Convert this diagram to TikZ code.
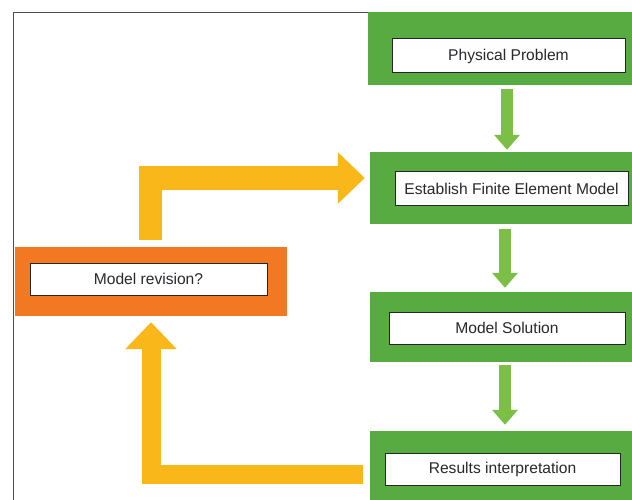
\documentclass[tikz,border=0pt]{standalone}
\usepackage{fontspec}
\setmainfont{Liberation Sans}
\usetikzlibrary{calc,arrows.meta}

\definecolor{boxgreen}{RGB}{88,171,64}
\definecolor{arrgreen}{RGB}{124,191,70}
\definecolor{revorange}{RGB}{242,121,34}
\definecolor{backyellow}{RGB}{250,183,26}
\definecolor{txtgray}{RGB}{40,40,45}

\begin{document}
\begin{tikzpicture}[x=1pt,y=-1pt,font=\fontsize{15.6}{18}\selectfont]
\tikzset{G/.style={fill=boxgreen,draw=none,inner sep=0},
O/.style={fill=revorange,draw=none,inner sep=0},
W/.style={fill=white,draw=black!85,line width=1pt,inner sep=0,text=txtgray},
GA/.style={draw=arrgreen,line width=12pt,-{Triangle[width=25pt,length=15pt]}},
YA/.style={draw=backyellow,line join=miter,-{Triangle[width=50pt,length=27pt]}}
}

\useasboundingbox[fill=white] (0,0) rectangle (632,500);

% outer frame
\draw[black!70,line width=1pt] (13,500) |- (632,13);

% green steps on the right
\node(g1)[G,minimum width=264,minimum height=73] at (500,48.5) {};
\node(g2)[G,minimum width=262,minimum height=72] at (501,188) {};
\node(g3)[G,minimum width=262,minimum height=70] at (501,327) {};
\node(g4)[G,minimum width=262,minimum height=69] at (501,465.5) {};

% revision box on the left
\node(o1)[O,minimum width=272,minimum height=69] at (151,281.5) {};

% labels
\node(phys)[W,minimum width=233,minimum height=34] at (508.5,56) {Physical Problem};
\node(fem)[W,minimum width=233,minimum height=33] at (511.5,188.5) {Establish Finite Element Model};
\node(sol)[W,minimum width=236,minimum height=32] at (507,328) {Model Solution};
\node(res)[W,minimum width=235,minimum height=32] at (502.5,469) {Results interpretation};
\node(rev)[W,minimum width=237,minimum height=32] at (148.5,279) {Model revision?};

% downward flow
\draw[GA] ($(g1.south)+(7,4)$) -- ($(g2.north)+(6,-2)$);
\draw[GA] ($(g2.south)+(4,5)$) -- ($(g3.north)+(4,-4)$);
\draw[GA] ($(g3.south)+(4,3)$) -- ($(g4.north)+(4,-6)$);

% feedback loop
\draw[YA,line width=19pt] ($(g4.west)+(-7,8.5)$) -| ($(o1.south)+(0,6)$);
\draw[YA,line width=23pt] ($(o1.north)+(-1,-7)$) |- ($(g2.west)+(-5,-10)$);

\end{tikzpicture}
\end{document}
